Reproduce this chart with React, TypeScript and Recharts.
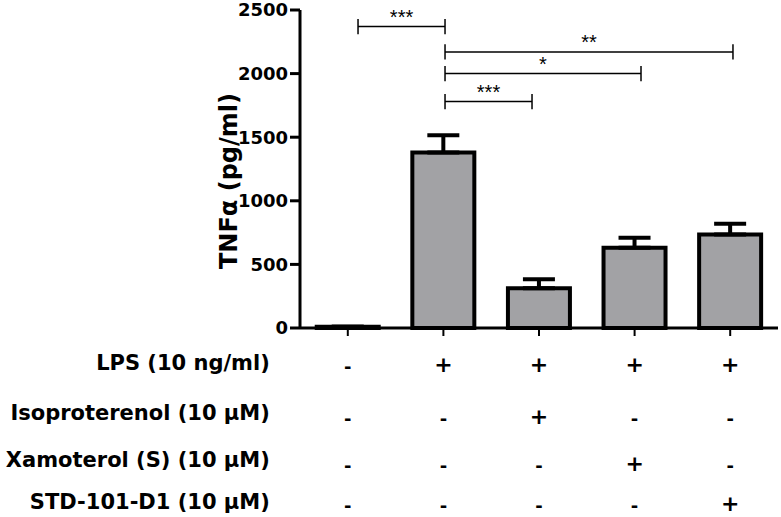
import React from 'react';
import { BarChart, Bar, XAxis, YAxis, ErrorBar, ReferenceLine } from 'recharts';

const GROUPS = ['Vehicle', 'LPS', 'LPS + Iso', 'LPS + Xam', 'LPS + STD'];
const SLOTS = [0.5, 1.5, 2.5, 3.5, 4.5];
const MEANS = [10, 1380, 313, 631, 735];
const SEM = [0, 135, 70, 79, 84];
const Y_TICKS = [0, 500, 1000, 1500, 2000, 2500];

const ROW_LABELS = ['LPS (10 ng/ml)', 'Isoproterenol (10 \u03bcM)', 'Xamoterol (S) (10 \u03bcM)', 'STD-101-D1 (10 \u03bcM)'];
const LPS_ROW = ['-', '+', '+', '+', '+'];
const ISO_ROW = ['-', '-', '+', '-', '-'];
const XAM_ROW = ['-', '-', '-', '+', '-'];
const STD_ROW = ['-', '-', '-', '-', '+'];
const ROWS = [LPS_ROW, ISO_ROW, XAM_ROW, STD_ROW];

// significance brackets, x in category units (0..5), y in pg/ml
const BR_FROM = [0.607, 1.517, 1.517, 1.517];
const BR_TO = [1.517, 4.529, 3.567, 2.427];
const BR_LEVEL = [2370, 2170, 2000, 1780];
const BR_LABEL = ['***', '**', '*', '***'];

const FONT = "'DejaVu Sans', sans-serif";
const LABEL_DY = [25, 75, 122, 164];
const SIGN_DY = [26, 78, 125, 165];

const data = GROUPS.map((g, i) => ({ name: g, slot: SLOTS[i], mean: MEANS[i], err: [0, SEM[i]] }));

const TableTick = (props: any) => {
  const { x, y, payload } = props;
  const i = payload.index;
  return (
    <g>
      {ROWS.map((row, r) => (
        <text
          key={r}
          x={x}
          y={y + SIGN_DY[r] + (row[i] === '-' ? 2 : 0)}
          textAnchor="middle"
          dominantBaseline="central"
          fontFamily={FONT}
          fontWeight="bold"
          fontSize={row[i] === '-' ? 18 : 22}
          fill="#000"
        >
          {row[i]}
        </text>
      ))}
      {i === 0 &&
        ROW_LABELS.map((lab, r) => (
          <text
            key={'l' + r}
            x={x - 78}
            y={y + LABEL_DY[r]}
            textAnchor="end"
            dominantBaseline="central"
            fontFamily={FONT}
            fontWeight="bold"
            fontSize={21}
            fill="#000"
          >
            {lab}
          </text>
        ))}
    </g>
  );
};

const YLabel = (props: any) => {
  const { viewBox } = props;
  const cx = viewBox.x + 229;
  const cy = viewBox.y + viewBox.height / 2 + 12;
  return (
    <text
      x={cx}
      y={cy}
      transform={`rotate(-90, ${cx}, ${cy})`}
      textAnchor="middle"
      dominantBaseline="central"
      fontFamily={FONT}
      fontWeight="bold"
      fontSize={24}
      fill="#000"
    >
      TNF{'\u03b1'} (pg/ml)
    </text>
  );
};

export default function App() {
  return (
    <div style={{ width: 781, height: 517, background: '#fff' }}>
      <style>{`body{margin:0}`}</style>
      <BarChart
        width={781}
        height={517}
        data={data}
        margin={{ top: 10, right: 3, left: 0, bottom: 0 }}
        barCategoryGap="17.5%"
      >
        <XAxis
          dataKey="name"
          height={189}
          interval={0}
          axisLine={{ stroke: '#000', strokeWidth: 3 }}
          tickLine={{ stroke: '#000', strokeWidth: 2 }}
          tickSize={8}
          tickMargin={2}
          tick={<TableTick />}
        />
        <XAxis
          xAxisId="pos"
          dataKey="slot"
          type="number"
          domain={[0, 5]}
          ticks={[0, 1, 2, 3, 4, 5]}
          allowDataOverflow
          hide
        />
        <YAxis
          width={300}
          domain={[0, 2500]}
          ticks={Y_TICKS}
          interval={0}
          axisLine={{ stroke: '#000', strokeWidth: 3 }}
          tickLine={{ stroke: '#000', strokeWidth: 3 }}
          tickSize={10}
          tickMargin={2}
          tick={{ fontFamily: FONT, fontWeight: 'bold', fontSize: 18, fill: '#000' }}
          label={<YLabel />}
        />
        <Bar
          dataKey="mean"
          fill="#a2a2a5"
          stroke="#000"
          strokeWidth={4}
          isAnimationActive={false}
        >
          <ErrorBar dataKey="err" width={16} stroke="#000" strokeWidth={4} direction="y" />
        </Bar>
        {BR_LEVEL.map((lvl, k) => (
          <ReferenceLine
            key={'h' + k}
            xAxisId="pos"
            ifOverflow="visible"
            segment={[{ x: BR_FROM[k], y: lvl }, { x: BR_TO[k], y: lvl }]}
            stroke="#000"
            strokeWidth={1.5}
            label={{ value: BR_LABEL[k], position: 'top', offset: 3, fontSize: 20, fill: '#000', fontFamily: "'Liberation Sans', Arial, sans-serif" }}
          />
        ))}
        {BR_LEVEL.map((lvl, k) => (
          <ReferenceLine
            key={'a' + k}
            xAxisId="pos"
            ifOverflow="visible"
            segment={[{ x: BR_FROM[k], y: lvl - 60 }, { x: BR_FROM[k], y: lvl + 60 }]}
            stroke="#000"
            strokeWidth={1.5}
          />
        ))}
        {BR_LEVEL.map((lvl, k) => (
          <ReferenceLine
            key={'b' + k}
            xAxisId="pos"
            ifOverflow="visible"
            segment={[{ x: BR_TO[k], y: lvl - 60 }, { x: BR_TO[k], y: lvl + 60 }]}
            stroke="#000"
            strokeWidth={1.5}
          />
        ))}
      </BarChart>
    </div>
  );
}
